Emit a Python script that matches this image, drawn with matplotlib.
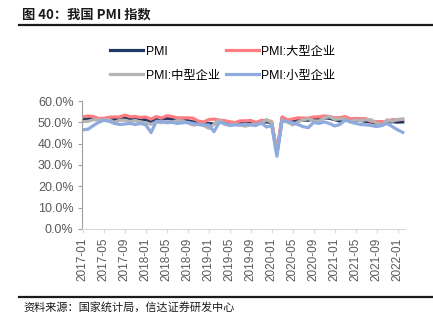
import matplotlib
matplotlib.use("Agg")
import matplotlib.pyplot as plt
import numpy as np
import pandas as pd

plt.rcParams['font.family'] = ['Liberation Sans', 'Noto Sans CJK SC', 'DejaVu Sans']

months = pd.date_range("2017-01-01", "2022-02-01", freq="MS").strftime("%Y-%m").tolist()

pmi = [51.3, 51.6, 51.8, 51.2, 51.2, 51.7, 51.4, 51.7, 52.4, 51.6, 51.8, 51.6,
       51.3, 50.3, 51.5, 51.4, 51.9, 51.5, 51.2, 51.3, 50.8, 50.2, 50.0, 49.4,
       49.5, 49.2, 50.5, 50.1, 49.4, 49.4, 49.7, 49.5, 49.8, 49.3, 50.2, 50.2,
       50.0, 35.7, 52.0, 50.8, 50.6, 50.9, 51.1, 51.0, 51.5, 51.4, 52.1, 51.9,
       51.3, 50.6, 51.9, 51.1, 51.0, 50.9, 50.4, 50.1, 49.6, 49.2, 50.1, 50.3,
       50.1, 50.2]
large = [52.6, 53.0, 52.7, 51.8, 51.9, 52.4, 52.5, 52.5, 53.4, 52.6, 52.7, 52.3,
         52.5, 51.5, 52.7, 52.0, 53.1, 52.7, 52.1, 52.1, 52.1, 52.0, 50.6, 50.1,
         51.3, 51.5, 51.1, 50.8, 50.3, 49.9, 50.7, 50.7, 50.9, 49.9, 50.9, 50.9,
         50.4, 36.5, 52.6, 51.1, 51.6, 52.1, 52.0, 52.0, 52.5, 52.6, 53.0, 52.7,
         52.1, 52.2, 52.7, 51.7, 51.8, 51.7, 51.7, 50.3, 50.4, 50.3, 50.2, 51.3,
         51.1, 51.5]
medium = [50.3, 50.5, 51.2, 51.1, 51.1, 51.2, 50.0, 51.0, 51.0, 50.4, 50.9, 50.0,
          49.8, 49.1, 50.2, 49.8, 50.4, 50.1, 50.8, 50.7, 49.7, 48.7, 49.1, 48.6,
          47.2, 49.1, 51.1, 49.1, 48.8, 49.1, 48.7, 48.2, 49.0, 49.0, 49.5, 51.3,
          50.1, 35.5, 50.9, 50.2, 48.8, 50.2, 51.2, 51.7, 50.7, 50.6, 52.0, 52.7,
          51.4, 51.6, 51.6, 50.3, 51.1, 50.8, 51.2, 51.2, 49.7, 48.6, 51.2, 50.5,
          51.4, 51.5]
small = [46.5, 46.8, 48.5, 50.0, 51.0, 50.5, 49.5, 49.0, 49.2, 49.5, 49.0, 49.5,
         48.8, 45.2, 50.5, 50.5, 49.8, 50.0, 49.5, 49.8, 50.0, 49.5, 49.0, 48.8,
         48.8, 45.6, 50.0, 49.5, 48.5, 48.8, 48.8, 49.0, 48.8, 48.5, 49.8, 47.8,
         48.5, 34.1, 51.0, 50.2, 49.8, 49.0, 48.0, 47.5, 50.0, 49.5, 50.2, 49.5,
         48.3, 49.0, 51.0, 50.2, 49.5, 49.0, 48.8, 48.5, 48.0, 48.5, 49.5, 48.0,
         46.5, 45.3]

series_labels = ["PMI", "PMI:大型企业", "PMI:中型企业", "PMI:小型企业"]
colors = ["#1f3864", "#ff7c80", "#b4b4b4", "#8faadc"]
yticks = [0, 10, 20, 30, 40, 50, 60]

fig = plt.figure(figsize=(4.33, 3.28), dpi=100)
ax = fig.add_axes([0.189, 0.302, 0.746, 0.39])

x = np.arange(len(months))
lines = []
for vals, lab, c in zip([pmi, large, medium, small], series_labels, colors):
    ln, = ax.plot(x, vals, color=c, lw=2.3, label=lab, solid_joinstyle='round')
    lines.append(ln)

ax.set_ylim(0, 60)
ax.set_xlim(-0.2, len(months) - 0.6)
ax.set_yticks(yticks)
ax.set_yticklabels([f"{v:.1f}%" for v in yticks], fontsize=9, color="#595959")
ax.set_xticks(x[::4])
ax.set_xticklabels(months[::4], rotation=90, fontsize=8.5, color="#595959")
ax.tick_params(axis='y', length=3, color="#a0a0a0", pad=3)
ax.tick_params(axis='x', length=3, color="#d9d9d9", pad=3)
for s in ['top', 'right']:
    ax.spines[s].set_visible(False)
ax.spines['left'].set_color("#a0a0a0")
ax.spines['bottom'].set_color("#d9d9d9")

# legend filled row-wise: PMI, 大型 / 中型, 小型
order = [0, 2, 1, 3]
fig.legend([lines[i] for i in order], [series_labels[i] for i in order],
           loc='center', bbox_to_anchor=(0.515, 0.806),
           ncol=2, frameon=False, fontsize=8.8, handlelength=2.7,
           handletextpad=0.2, columnspacing=0.5, labelspacing=1.0,
           borderpad=0, borderaxespad=0)

# title and rules
fig.text(0.05, 0.955, "图 40：我国 PMI 指数", fontsize=9.5, fontweight='bold',
         color="#1a1a1a", va='center', ha='left',
         family=['Noto Sans CJK SC', 'DejaVu Sans'])
fig.add_artist(plt.Line2D([0.045, 1.0], [0.923, 0.923], color="#1a1a1a", lw=1.6))
fig.add_artist(plt.Line2D([0.045, 1.0], [0.095, 0.095], color="#1a1a1a", lw=1.6))
fig.text(0.055, 0.062, "资料来源：国家统计局，信达证券研发中心", fontsize=8,
         color="#1a1a1a", va='center', ha='left', style='italic',
         family=['Noto Sans CJK SC', 'DejaVu Sans'])

fig.savefig("out.png", dpi=100)
